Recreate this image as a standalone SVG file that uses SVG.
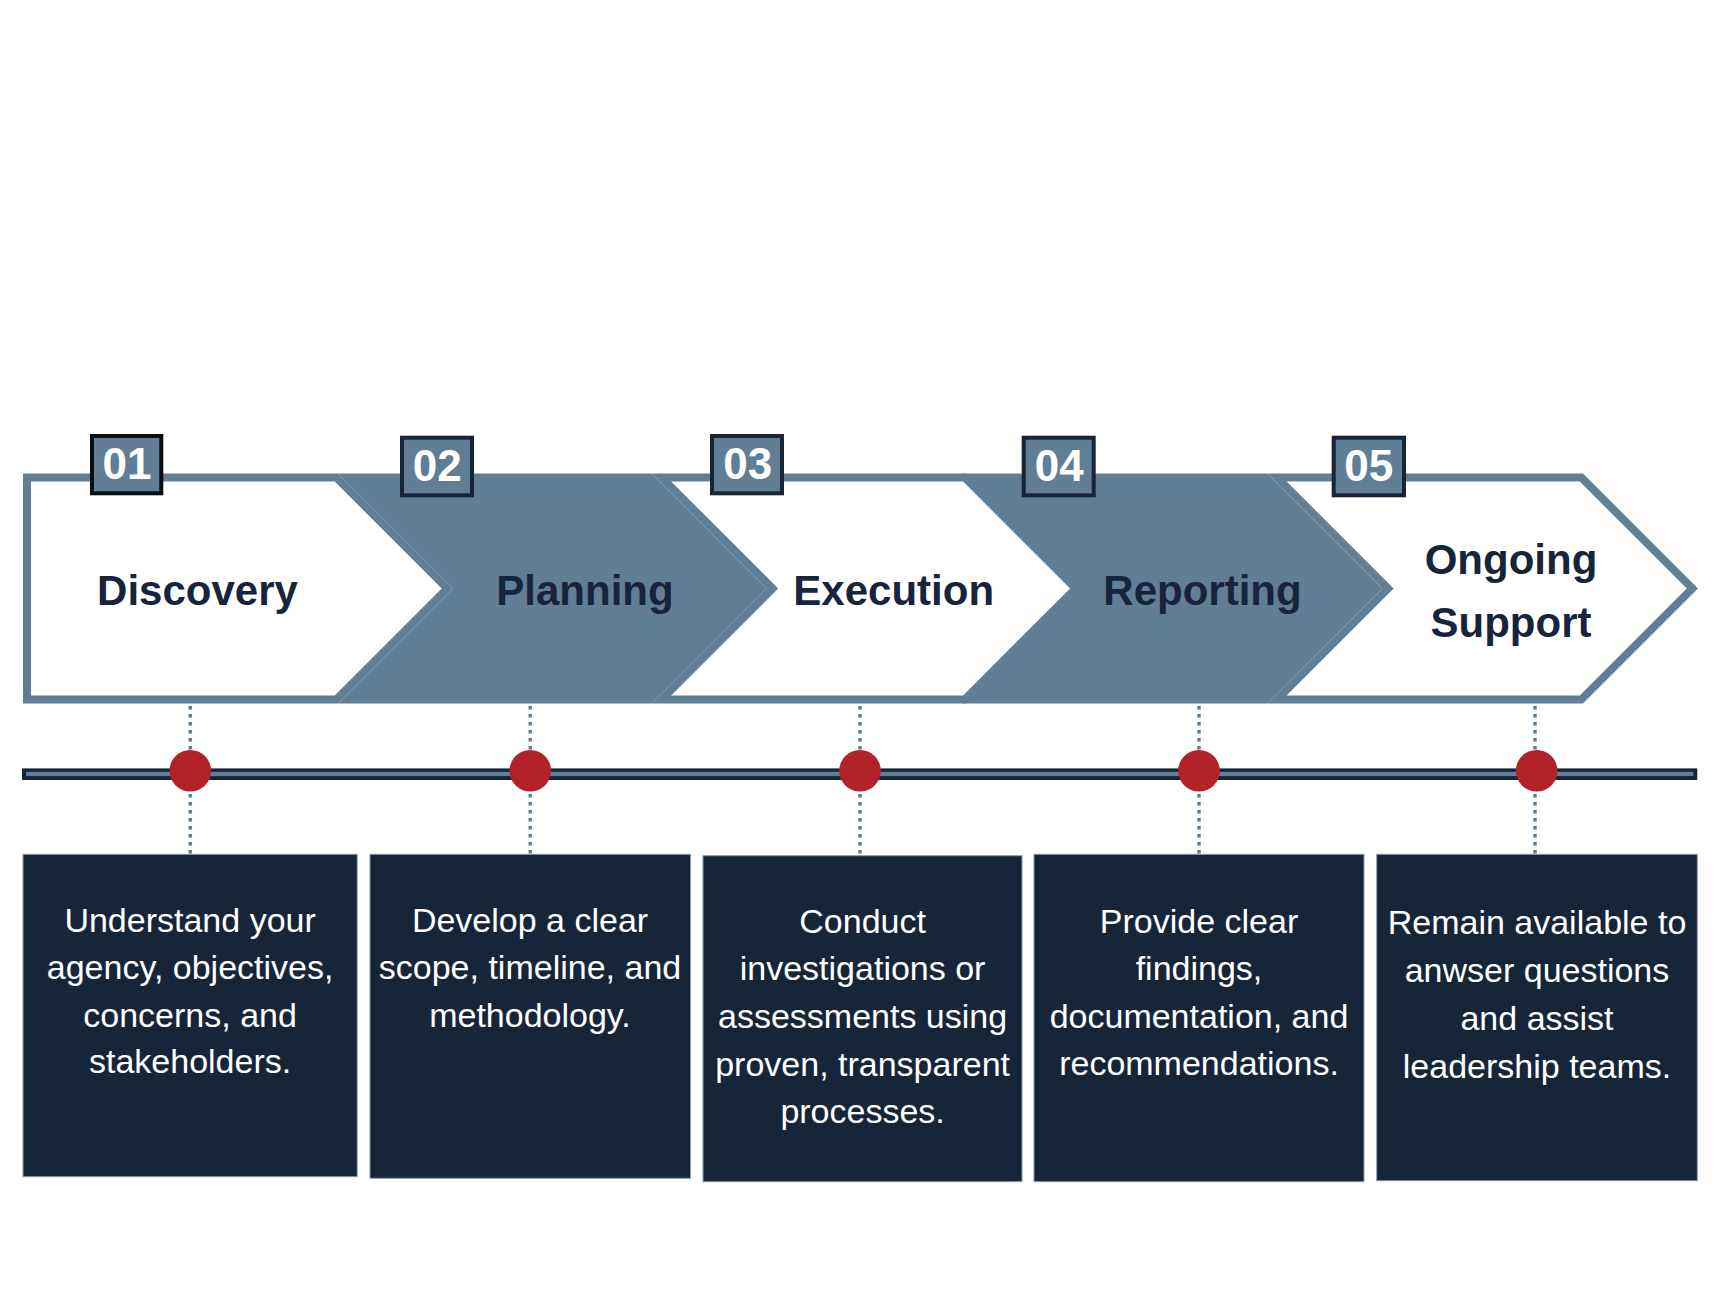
<svg xmlns="http://www.w3.org/2000/svg" width="1736" height="1302" viewBox="0 0 1736 1302">
  <style>
    .dark { fill: #607e96; }
    .white { fill: #ffffff; stroke: #607e96; stroke-width: 8; stroke-linejoin: miter; }
    .badge { fill: #607e96; stroke: #172539; stroke-width: 4; }
    .num { font-family: "Liberation Sans", Arial, sans-serif; font-weight: bold; font-size: 44px; fill: #ffffff; text-anchor: middle; }
    .title { font-family: "Liberation Sans", Arial, sans-serif; font-weight: bold; font-size: 42px; fill: #17243b; text-anchor: middle; }
    .box { fill: #172539; stroke: #8a99ab; stroke-width: 1; }
    .desc { font-family: "Liberation Sans", Arial, sans-serif; font-size: 34px; fill: #ffffff; text-anchor: middle; }
    .conn { stroke: #607e96; stroke-width: 3.5; stroke-dasharray: 3.5 4.5; fill: none; }
    .dot { fill: #b22229; }
  </style>
  <rect width="1736" height="1302" fill="#ffffff"/>

  <!-- connectors -->
  <g id="connectors">
    <line class="conn" x1="190.3" y1="706" x2="190.3" y2="854"/>
    <line class="conn" x1="530.3" y1="706" x2="530.3" y2="854"/>
    <line class="conn" x1="860" y1="706" x2="860" y2="855"/>
    <line class="conn" x1="1199" y1="706" x2="1199" y2="854"/>
    <line class="conn" x1="1535" y1="706" x2="1535" y2="854"/>
  </g>

  <!-- chevrons -->
  <g id="step2-planning">
    <path class="dark" d="M338,473.5 H651.8 L766.8,588.5 L651.8,703.5 H338 L453,588.5 Z"/>
  </g>
  <g id="step4-reporting">
    <path class="dark" d="M962.4,473.5 H1267.3 L1382.3,588.5 L1267.3,703.5 H962.4 L1077.4,588.5 Z"/>
  </g>
  <g id="step1-discovery">
    <path class="white" d="M27,477.5 H336.3 L447.3,588.5 L336.3,699.5 H27 Z"/>
  </g>
  <g id="step3-execution">
    <path class="white" d="M661.5,477.5 H964.7 L1075.7,588.5 L964.7,699.5 H661.5 L772.5,588.5 Z"/>
  </g>
  <g id="step5-ongoing">
    <path class="white" d="M1277,477.5 H1581.3 L1692.3,588.5 L1581.3,699.5 H1277 L1388,588.5 Z"/>
  </g>

  <!-- titles -->
  <g id="titles">
    <text class="title" x="197.5" y="605">Discovery</text>
    <text class="title" x="585" y="605">Planning</text>
    <text class="title" x="893.7" y="605">Execution</text>
    <text class="title" x="1202.5" y="605">Reporting</text>
    <text class="title" x="1511" y="574">Ongoing</text>
    <text class="title" x="1511" y="637.3">Support</text>
  </g>

  <!-- badges -->
  <g id="badge-01">
    <rect class="badge" x="92" y="436" width="69.3" height="57.3" style="stroke:#0d0d0d"/>
    <text class="num" x="127" y="479.3">01</text>
  </g>
  <g id="badge-02">
    <rect class="badge" x="402" y="437.7" width="70" height="57.6"/>
    <text class="num" x="437.2" y="481">02</text>
  </g>
  <g id="badge-03">
    <rect class="badge" x="712" y="436" width="70" height="57.3"/>
    <text class="num" x="747.7" y="479.3">03</text>
  </g>
  <g id="badge-04">
    <rect class="badge" x="1023.7" y="437.7" width="70" height="57.6"/>
    <text class="num" x="1059.2" y="481">04</text>
  </g>
  <g id="badge-05">
    <rect class="badge" x="1333.7" y="437.7" width="70.3" height="57.6"/>
    <text class="num" x="1368.8" y="481">05</text>
  </g>

  <!-- timeline -->
  <g id="timeline">
    <rect x="22" y="768.4" width="1675.3" height="11.6" fill="#172539"/>
    <rect x="26" y="771.8" width="1667.3" height="4.3" fill="#607e96"/>
  </g>
  <g id="dots">
    <circle class="dot" cx="190.3" cy="770.7" r="20.8"/>
    <circle class="dot" cx="530.3" cy="770.7" r="20.8"/>
    <circle class="dot" cx="860" cy="770.7" r="20.8"/>
    <circle class="dot" cx="1199" cy="770.7" r="20.8"/>
    <circle class="dot" cx="1536.7" cy="770.7" r="20.8"/>
  </g>

  <!-- description boxes -->
  <g id="desc-1">
    <rect class="box" x="23" y="854.3" width="334.2" height="322.4"/>
    <text class="desc" x="190.1" y="931.7">Understand your</text>
    <text class="desc" x="190.1" y="979.3">agency, objectives,</text>
    <text class="desc" x="190.1" y="1026.7">concerns, and</text>
    <text class="desc" x="190.1" y="1073.3">stakeholders.</text>
  </g>
  <g id="desc-2">
    <rect class="box" x="370" y="854.3" width="320.5" height="324"/>
    <text class="desc" x="530" y="931.7">Develop a clear</text>
    <text class="desc" x="530" y="979.3">scope, timeline, and</text>
    <text class="desc" x="530" y="1026.7">methodology.</text>
  </g>
  <g id="desc-3">
    <rect class="box" x="703" y="855.7" width="319" height="326"/>
    <text class="desc" x="862.6" y="932.7">Conduct</text>
    <text class="desc" x="862.6" y="980">investigations or</text>
    <text class="desc" x="862.6" y="1027.7">assessments using</text>
    <text class="desc" x="862.6" y="1076">proven, transparent</text>
    <text class="desc" x="862.6" y="1123.3">processes.</text>
  </g>
  <g id="desc-4">
    <rect class="box" x="1034" y="854.3" width="330" height="327.4"/>
    <text class="desc" x="1199" y="932.7">Provide clear</text>
    <text class="desc" x="1199" y="980">findings,</text>
    <text class="desc" x="1199" y="1027.7">documentation, and</text>
    <text class="desc" x="1199" y="1075">recommendations.</text>
  </g>
  <g id="desc-5">
    <rect class="box" x="1376.7" y="854.3" width="320.6" height="326.4"/>
    <text class="desc" x="1537" y="934">Remain available to</text>
    <text class="desc" x="1537" y="981.7">anwser questions</text>
    <text class="desc" x="1537" y="1030">and assist</text>
    <text class="desc" x="1537" y="1078.3">leadership teams.</text>
  </g>
</svg>
